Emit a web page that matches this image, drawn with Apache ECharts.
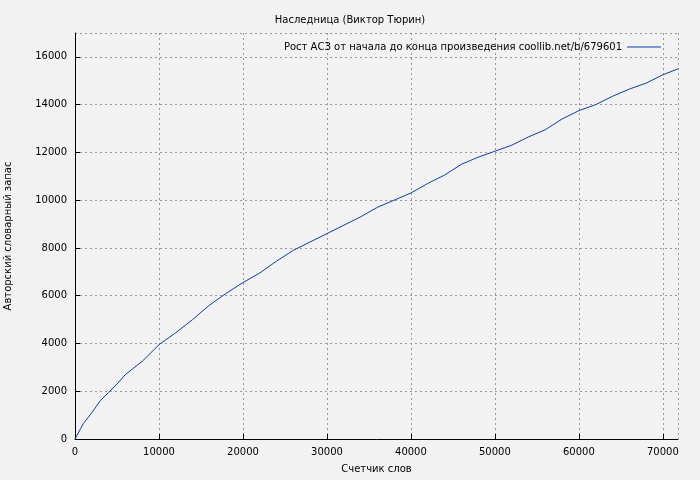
<!DOCTYPE html>
<html><head><meta charset="utf-8">
<script src="https://cdn.jsdelivr.net/npm/echarts@6/dist/echarts.min.js"></script>
<style>body{margin:0;background:#f2f2f2}#c{width:700px;height:480px}</style>
</head><body><div id="c"></div>
<script>
// счетчик слов и авторский словарный запас
const words = [0,1000,2000,3000,4000,5000,6000,8000,10000,12000,14000,16000,18000,20000,22000,24000,26000,28000,30000,32000,34000,36000,38000,40000,42000,44000,46000,48000,50000,52000,54000,56000,58000,60000,62000,64000,66000,68000,70000,71800]
const vocab = [0,650,1100,1600,1950,2300,2700,3250,3950,4450,5000,5600,6100,6550,6950,7450,7900,8250,8600,8950,9300,9700,10000,10300,10700,11050,11500,11800,12050,12300,12650,12950,13400,13750,14000,14350,14650,14900,15250,15500]
const title = 'Наследница (Виктор Тюрин)'
const seriesName = 'Рост АСЗ от начала до конца произведения coollib.net/b/679601'

let myChart = echarts.init(document.getElementById('c'))
const font = 'DejaVu Sans'
const split = {show:true, lineStyle:{color:'#999', type:[2,3]}}
const fmt = v => String(v)
myChart.setOption({
    backgroundColor:'#f2f2f2',
    animation:false,
    title:{text:title, left:'center', top:10, textStyle:{fontSize:10, fontWeight:'normal', color:'#000', fontFamily:font}},
    legend:{right:34, top:37, itemWidth:34, itemHeight:1, itemGap:8, align:'right', icon:'rect',
        textStyle:{fontSize:10, color:'#000', fontFamily:font}},
    grid:{left:75, right:22, top:33, bottom:41, outerBoundsMode:'none', containLabel:false},
    xAxis:{type:'value', min:0, max:71800, interval:10000, name:'Счетчик слов', nameLocation:'middle', nameGap:25,
        nameTextStyle:{fontSize:10, color:'#000', fontFamily:font},
        axisLine:{lineStyle:{color:'#000'}}, axisTick:{inside:true},
        axisLabel:{fontSize:10, color:'#000', fontFamily:font, showMaxLabel:false, formatter:fmt}, splitLine:split},
    yAxis:{type:'value', min:0, max:17000, interval:2000, name:'Авторский словарный запас', nameLocation:'middle', nameGap:62,
        nameTextStyle:{fontSize:10, color:'#000', fontFamily:font},
        axisLine:{show:true, lineStyle:{color:'#000'}}, axisTick:{show:true, inside:true},
        axisLabel:{fontSize:10, color:'#000', fontFamily:font, showMaxLabel:false, formatter:fmt}, splitLine:split},
    series:[{name:seriesName, type:'line', showSymbol:false, data:words.map((w,i)=>[w,vocab[i]]),
        lineStyle:{color:'#0a3fa8', width:1}, itemStyle:{color:'#0a3fa8'}}]
})
</script></body></html>
